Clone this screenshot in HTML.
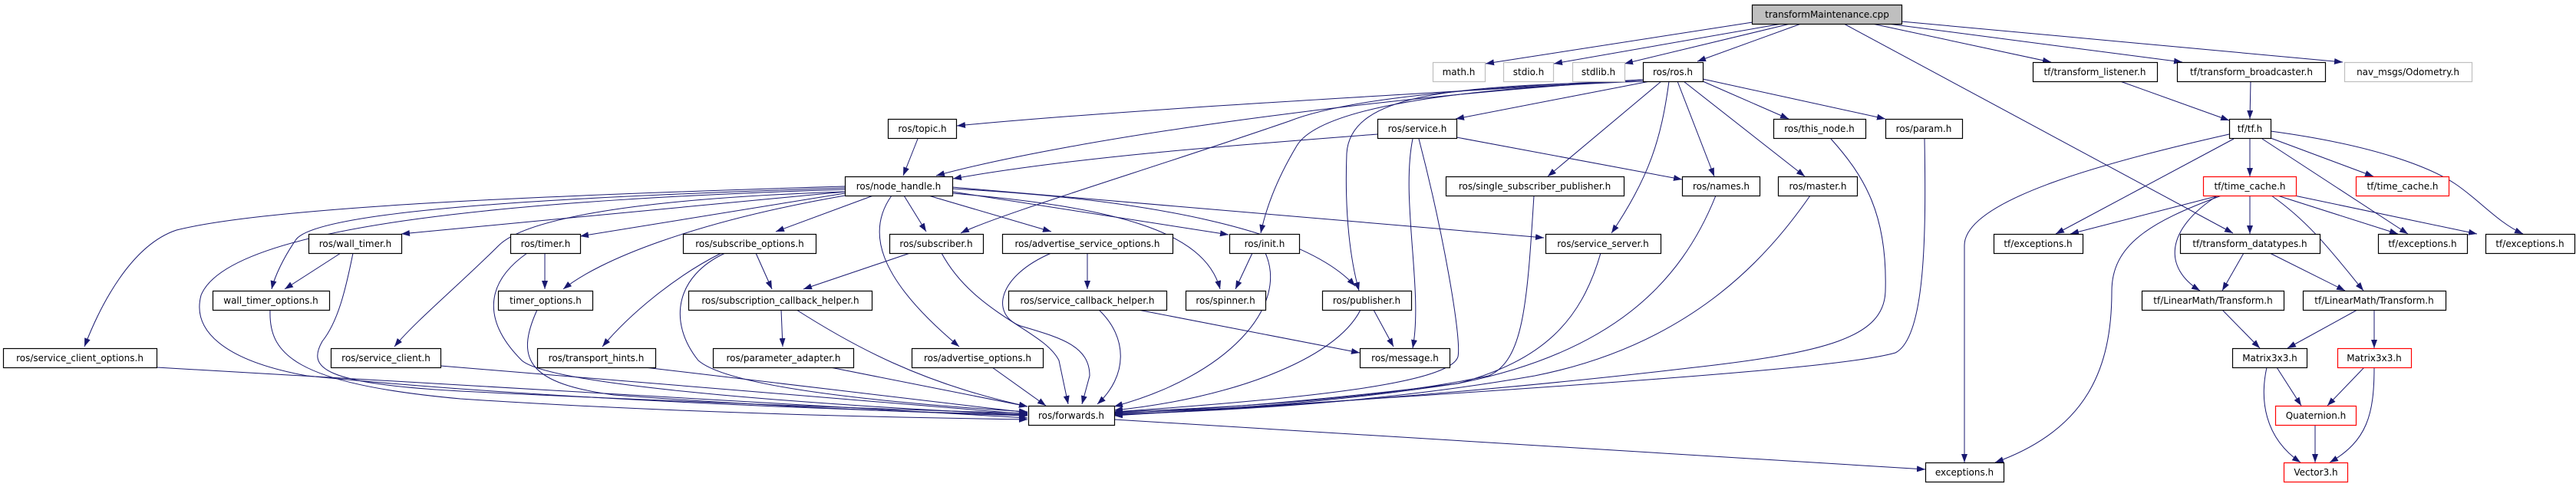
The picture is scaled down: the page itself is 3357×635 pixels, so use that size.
<!DOCTYPE html>
<html><head><meta charset="utf-8"><style>
html,body{margin:0;padding:0;background:#fff;}
svg{display:block;}
text{font-family:"DejaVu Sans","Liberation Sans",sans-serif;font-size:12px;fill:#000;}
</style></head><body>
<svg width="3357" height="635" viewBox="0 0 3357 635" xmlns="http://www.w3.org/2000/svg">
<defs>
<marker id="a" markerUnits="userSpaceOnUse" markerWidth="12" markerHeight="10" refX="11" refY="4" orient="auto">
<path d="M0,0 L11,4 L0,8 z" fill="#191970"/>
</marker>
</defs>
<g fill="none" stroke="#191970" stroke-width="1" marker-end="url(#a)">
<!-- TM -->
<path d="M2284,29 L1936,83"/>
<path d="M2322,31 L2025,83"/>
<path d="M2333,31 L2117,83"/>
<path d="M2347,31 L2212,80"/>
<path d="M2403,31 L2910,304"/>
<path d="M2440,31 L2673,81"/>
<path d="M2460,31 L2844,81"/>
<path d="M2478,28 L3053,81"/>
<!-- ros.h -->
<path d="M2141,104 C1900,120 1500,140 1247,164"/>
<path d="M2141,104 C1800,125 1400,180 1220,229"/>
<path d="M2141,104 C1900,115 1750,130 1680,158 C1500,220 1300,280 1252,304"/>
<path d="M2141,106 C1900,115 1720,140 1690,190 C1660,240 1648,280 1643,304"/>
<path d="M2141,106 C1900,112 1760,120 1755,200 C1752,280 1760,340 1771,379"/>
<path d="M2150,106 L1897,155"/>
<path d="M2165,106 L2017,230"/>
<path d="M2175,106 C2165,180 2150,230 2100,304"/>
<path d="M2186,106 L2234,230"/>
<path d="M2194,106 L2352,230"/>
<path d="M2219,106 L2331,155"/>
<path d="M2219,103 L2457,155"/>
<!-- topic / service -->
<path d="M1196,181 L1177,229"/>
<path d="M1795,175 C1600,190 1400,205 1242,233"/>
<path d="M1898,179 L2192,234"/>
<path d="M1841,181 C1825,260 1855,380 1841,454"/>
<path d="M1849,181 C1880,300 1905,440 1900,465 C1890,500 1700,520 1452,537"/>
<!-- node_handle -->
<path d="M1101,243 C700,255 350,270 230,300 C170,320 130,400 110,452"/>
<path d="M1101,245 C800,255 420,270 386,312 C370,335 358,360 354,377"/>
<path d="M1101,247 C700,260 300,290 262,385 C250,430 290,470 400,490 C700,520 1100,535 1339,541"/>
<path d="M1101,250 L523,305"/>
<path d="M1101,252 L756,308"/>
<path d="M1101,255 C900,290 780,340 734,377"/>
<path d="M1101,250 C800,260 680,290 650,320 C600,370 540,420 514,452"/>
<path d="M1138,255 L1011,302"/>
<path d="M1178,255 L1207,302"/>
<path d="M1210,255 L1370,302"/>
<path d="M1241,250 L1601,306"/>
<path d="M1241,252 C1450,270 1570,300 1590,377"/>
<path d="M1162,255 C1130,300 1140,360 1250,452"/>
<path d="M1241,246 C1500,260 1700,300 1766,373"/>
<path d="M1241,244 L2012,310"/>
<!-- left subtree -->
<path d="M444,330 L371,377"/>
<path d="M460,330 C450,380 440,420 420,445 C400,480 420,500 600,510 C900,525 1200,535 1339,539"/>
<path d="M352,404 C350,460 380,500 600,520 C900,540 1200,545 1339,547"/>
<path d="M710,330 L710,377"/>
<path d="M687,330 C630,370 630,420 680,470 C720,505 1100,530 1339,541"/>
<path d="M700,404 C670,470 690,500 800,515 C1000,530 1200,538 1339,542"/>
<path d="M204,479 L1339,545"/>
<path d="M574,477 L1339,540"/>
<path d="M840,479 L1339,538"/>
<path d="M985,330 L1006,377"/>
<path d="M940,330 C880,360 820,410 785,452"/>
<path d="M945,330 C880,360 870,420 910,470 C950,505 1150,525 1339,537"/>
<path d="M1186,330 L1047,377"/>
<path d="M1227,330 C1270,410 1360,430 1380,470 L1392,527"/>
<path d="M1417,330 L1417,377"/>
<path d="M1370,330 C1300,360 1290,410 1330,425 C1380,440 1420,450 1420,490 L1410,527"/>
<path d="M1432,404 C1470,440 1470,490 1430,527"/>
<path d="M1483,404 L1772,460"/>
<path d="M1018,404 L1020,452"/>
<path d="M1038,404 C1110,450 1200,500 1339,530"/>
<path d="M1082,479 L1339,530"/>
<path d="M1293,479 L1363,529"/>
<path d="M1632,330 L1610,377"/>
<path d="M1649,330 C1680,400 1600,490 1452,530"/>
<path d="M1790,404 L1816,452"/>
<path d="M1773,404 C1740,470 1600,520 1452,535"/>
<path d="M1999,255 C1990,400 1985,470 1940,490 C1800,520 1600,532 1452,537"/>
<path d="M2236,255 C2190,370 2100,460 1900,500 C1700,525 1550,535 1452,539"/>
<path d="M2359,255 C2300,340 2200,450 2000,490 C1800,525 1600,536 1452,540"/>
<path d="M2386,181 C2430,230 2460,280 2457,380 C2455,440 2380,460 2200,480 C1900,515 1600,535 1452,541"/>
<path d="M2508,181 C2510,300 2510,440 2470,460 C2400,480 2100,500 1452,542"/>
<path d="M2086,330 C2060,420 2010,470 1900,500 C1700,530 1550,536 1452,538"/>
<path d="M1452,547 L2509,612"/>
<!-- tf -->
<path d="M2763,106 L2905,157"/>
<path d="M2933,106 L2932,155"/>
<path d="M2905,175 C2750,210 2560,260 2560,320 L2560,603"/>
<path d="M2911,181 L2679,305"/>
<path d="M2932,181 L2932,230"/>
<path d="M2959,180 L3093,230"/>
<path d="M2948,181 L3138,305"/>
<path d="M2959,171 C3100,190 3170,220 3200,240 C3230,260 3255,290 3288,305"/>
<path d="M2892,255 L2698,305"/>
<path d="M2932,255 L2932,305"/>
<path d="M2968,255 L3125,305"/>
<path d="M2990,255 L3228,305"/>
<path d="M2890,255 C2820,300 2820,350 2867,379"/>
<path d="M2960,255 C3010,290 3040,330 3080,379"/>
<path d="M2895,255 C2800,290 2752,320 2752,380 C2752,480 2720,560 2600,603"/>
<path d="M2924,330 L2896,379"/>
<path d="M2958,330 L3056,379"/>
<path d="M2896,404 L2945,454"/>
<path d="M3072,404 L2981,454"/>
<path d="M3094,404 L3094,454"/>
<path d="M2967,479 L2999,529"/>
<path d="M2954,479 C2945,520 2950,570 2998,603"/>
<path d="M3081,479 L3033,529"/>
<path d="M3094,479 C3094,540 3085,575 3036,603"/>
<path d="M3017,554 L3017,603"/>
</g>
<g stroke-width="1.2" text-anchor="middle">
<!-- nodes: rect x,y,w,h ; text center -->
<rect x="2283.5" y="6.5" width="195" height="25" fill="#bfbfbf" stroke="#000"/><text x="2381" y="23">transformMaintenance.cpp</text>
<rect x="1867.5" y="81.5" width="68" height="25" fill="#fff" stroke="#bfbfbf"/><text x="1901" y="98">math.h</text>
<rect x="1959.5" y="81.5" width="65" height="25" fill="#fff" stroke="#bfbfbf"/><text x="1992" y="98">stdio.h</text>
<rect x="2049.5" y="81.5" width="68" height="25" fill="#fff" stroke="#bfbfbf"/><text x="2083" y="98">stdlib.h</text>
<rect x="2141.5" y="81.5" width="78" height="25" fill="#fff" stroke="#000"/><text x="2180" y="98">ros/ros.h</text>
<rect x="2649.5" y="81.5" width="162" height="25" fill="#fff" stroke="#000"/><text x="2730" y="98">tf/transform_listener.h</text>
<rect x="2837.5" y="81.5" width="193" height="25" fill="#fff" stroke="#000"/><text x="2934" y="98">tf/transform_broadcaster.h</text>
<rect x="3055.5" y="81.5" width="166" height="25" fill="#fff" stroke="#bfbfbf"/><text x="3138" y="98">nav_msgs/Odometry.h</text>

<rect x="1157.5" y="155.5" width="89" height="25" fill="#fff" stroke="#000"/><text x="1202" y="172">ros/topic.h</text>
<rect x="1795.5" y="155.5" width="103" height="25" fill="#fff" stroke="#000"/><text x="1847" y="172">ros/service.h</text>
<rect x="2311.5" y="155.5" width="120" height="25" fill="#fff" stroke="#000"/><text x="2371" y="172">ros/this_node.h</text>
<rect x="2457.5" y="155.5" width="100" height="25" fill="#fff" stroke="#000"/><text x="2507" y="172">ros/param.h</text>
<rect x="2905.5" y="155.5" width="54" height="25" fill="#fff" stroke="#000"/><text x="2932" y="172">tf/tf.h</text>

<rect x="1101.5" y="230.5" width="140" height="25" fill="#fff" stroke="#000"/><text x="1171" y="247">ros/node_handle.h</text>
<rect x="1884.5" y="230.5" width="232" height="25" fill="#fff" stroke="#000"/><text x="2000" y="247">ros/single_subscriber_publisher.h</text>
<rect x="2192.5" y="230.5" width="101" height="25" fill="#fff" stroke="#000"/><text x="2243" y="247">ros/names.h</text>
<rect x="2317.5" y="230.5" width="103" height="25" fill="#fff" stroke="#000"/><text x="2369" y="247">ros/master.h</text>
<rect x="2871.5" y="230.5" width="121" height="25" fill="#fff" stroke="#f00"/><text x="2932" y="247">tf/time_cache.h</text>
<rect x="3070.5" y="230.5" width="121" height="25" fill="#fff" stroke="#f00"/><text x="3131" y="247">tf/time_cache.h</text>

<rect x="402.5" y="305.5" width="121" height="25" fill="#fff" stroke="#000"/><text x="463" y="322">ros/wall_timer.h</text>
<rect x="665.5" y="305.5" width="91" height="25" fill="#fff" stroke="#000"/><text x="711" y="322">ros/timer.h</text>
<rect x="890.5" y="305.5" width="173" height="25" fill="#fff" stroke="#000"/><text x="977" y="322">ros/subscribe_options.h</text>
<rect x="1159.5" y="305.5" width="122" height="25" fill="#fff" stroke="#000"/><text x="1220" y="322">ros/subscriber.h</text>
<rect x="1306.5" y="305.5" width="222" height="25" fill="#fff" stroke="#000"/><text x="1417" y="322">ros/advertise_service_options.h</text>
<rect x="1602.5" y="305.5" width="91" height="25" fill="#fff" stroke="#000"/><text x="1648" y="322">ros/init.h</text>
<rect x="2014.5" y="305.5" width="150" height="25" fill="#fff" stroke="#000"/><text x="2089" y="322">ros/service_server.h</text>
<rect x="2598.5" y="305.5" width="116" height="25" fill="#fff" stroke="#000"/><text x="2656" y="322">tf/exceptions.h</text>
<rect x="2841.5" y="305.5" width="182" height="25" fill="#fff" stroke="#000"/><text x="2932" y="322">tf/transform_datatypes.h</text>
<rect x="3099.5" y="305.5" width="116" height="25" fill="#fff" stroke="#000"/><text x="3157" y="322">tf/exceptions.h</text>
<rect x="3239.5" y="305.5" width="116" height="25" fill="#fff" stroke="#000"/><text x="3297" y="322">tf/exceptions.h</text>

<rect x="277.5" y="379.5" width="152" height="25" fill="#fff" stroke="#000"/><text x="353" y="396">wall_timer_options.h</text>
<rect x="649.5" y="379.5" width="123" height="25" fill="#fff" stroke="#000"/><text x="711" y="396">timer_options.h</text>
<rect x="897.5" y="379.5" width="239" height="25" fill="#fff" stroke="#000"/><text x="1017" y="396">ros/subscription_callback_helper.h</text>
<rect x="1314.5" y="379.5" width="206" height="25" fill="#fff" stroke="#000"/><text x="1417" y="396">ros/service_callback_helper.h</text>
<rect x="1545.5" y="379.5" width="104" height="25" fill="#fff" stroke="#000"/><text x="1597" y="396">ros/spinner.h</text>
<rect x="1723.5" y="379.5" width="116" height="25" fill="#fff" stroke="#000"/><text x="1781" y="396">ros/publisher.h</text>
<rect x="2791.5" y="379.5" width="185" height="25" fill="#fff" stroke="#000"/><text x="2884" y="396">tf/LinearMath/Transform.h</text>
<rect x="3001.5" y="379.5" width="186" height="25" fill="#fff" stroke="#000"/><text x="3094" y="396">tf/LinearMath/Transform.h</text>

<rect x="4.5" y="454.5" width="200" height="25" fill="#fff" stroke="#000"/><text x="104" y="471">ros/service_client_options.h</text>
<rect x="431.5" y="454.5" width="143" height="25" fill="#fff" stroke="#000"/><text x="503" y="471">ros/service_client.h</text>
<rect x="700.5" y="454.5" width="154" height="25" fill="#fff" stroke="#000"/><text x="777" y="471">ros/transport_hints.h</text>
<rect x="929.5" y="454.5" width="183" height="25" fill="#fff" stroke="#000"/><text x="1021" y="471">ros/parameter_adapter.h</text>
<rect x="1188.5" y="454.5" width="171" height="25" fill="#fff" stroke="#000"/><text x="1274" y="471">ros/advertise_options.h</text>
<rect x="1772.5" y="454.5" width="117" height="25" fill="#fff" stroke="#000"/><text x="1831" y="471">ros/message.h</text>
<rect x="2909.5" y="454.5" width="97" height="25" fill="#fff" stroke="#000"/><text x="2958" y="471">Matrix3x3.h</text>
<rect x="3046.5" y="454.5" width="96" height="25" fill="#fff" stroke="#f00"/><text x="3094" y="471">Matrix3x3.h</text>

<rect x="1340.5" y="529.5" width="112" height="25" fill="#fff" stroke="#000"/><text x="1396" y="546">ros/forwards.h</text>
<rect x="2965.5" y="529.5" width="105" height="25" fill="#fff" stroke="#f00"/><text x="3018" y="546">Quaternion.h</text>

<rect x="2509.5" y="603.5" width="102" height="25" fill="#fff" stroke="#000"/><text x="2560" y="620">exceptions.h</text>
<rect x="2976.5" y="603.5" width="83" height="25" fill="#fff" stroke="#f00"/><text x="3018" y="620">Vector3.h</text>
</g>
</svg>
</body></html>
